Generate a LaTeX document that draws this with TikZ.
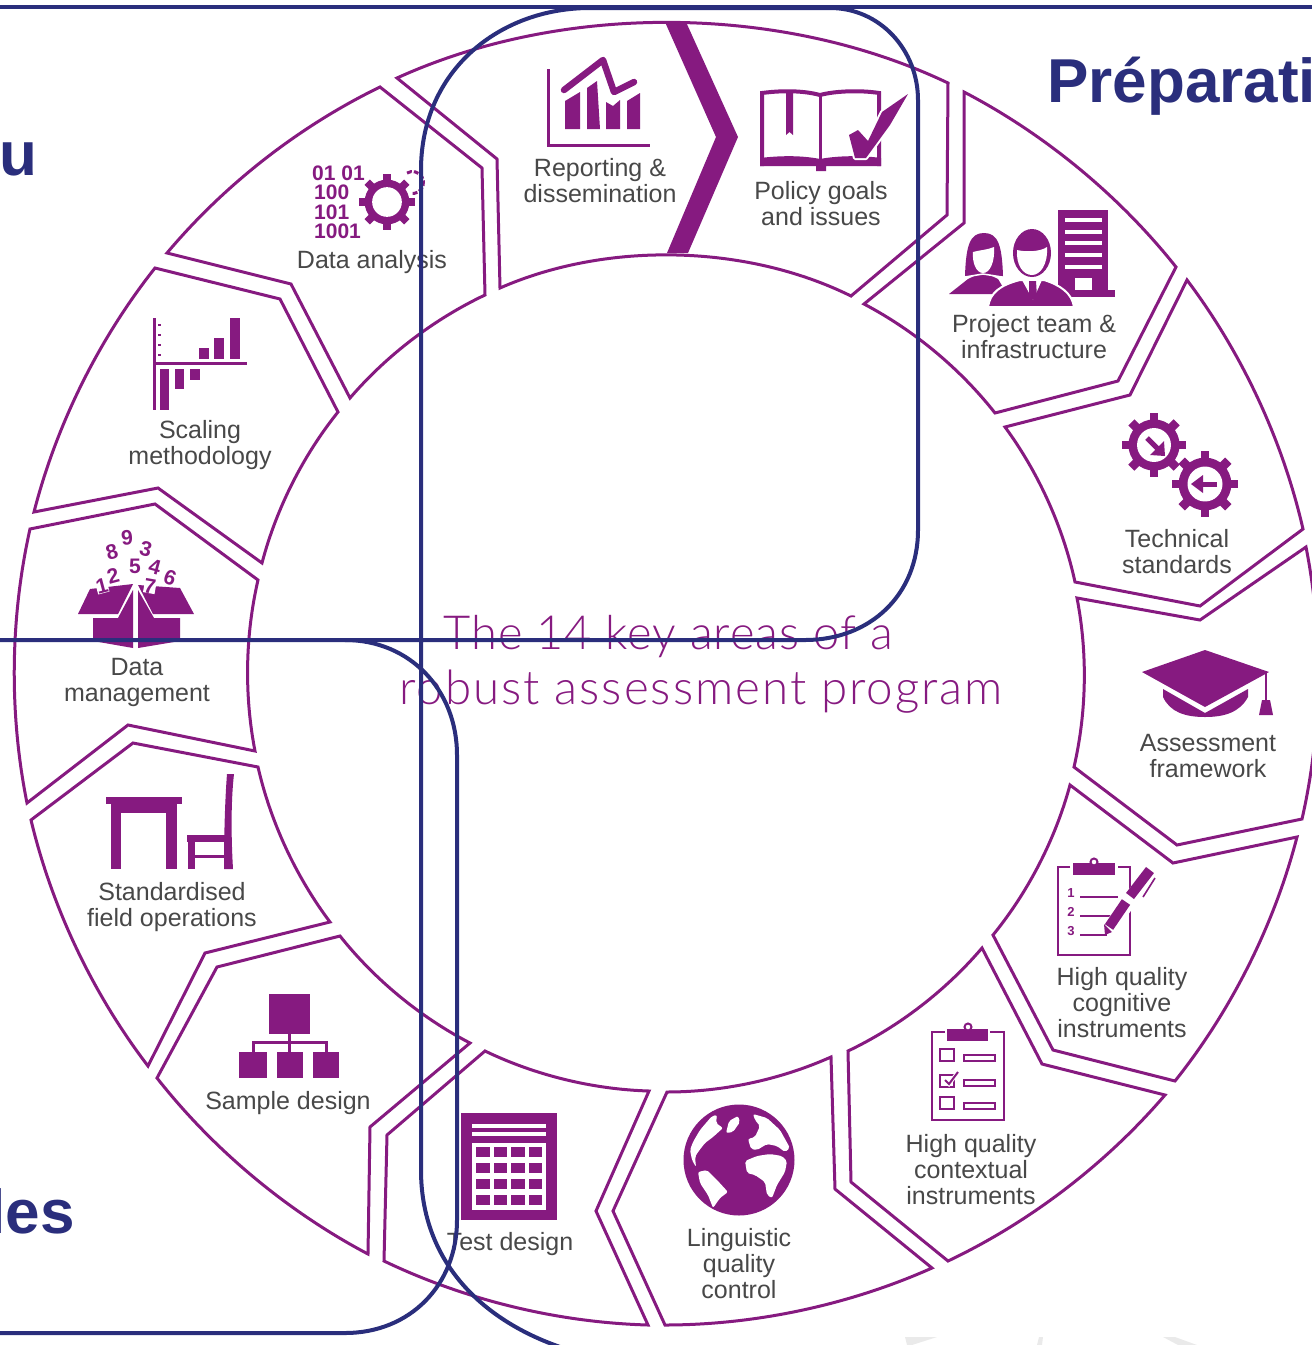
\documentclass[tikz,border=0pt]{standalone}
\usepackage{fontspec}
\setmainfont{Liberation Sans}
\newfontfamily\thinfont{Lato Light}
\newfontfamily\thinwide{Lato Light}[LetterSpace=2.2]
\newfontfamily\thinwider{Lato Light}[LetterSpace=4.2]
\definecolor{purp}{HTML}{861A80}
\definecolor{navy}{HTML}{2A2E7C}
\definecolor{labelgray}{HTML}{484848}
\definecolor{faint}{HTML}{EAEAEA}
\tikzset{
	ring/.style={draw=purp,line width=3pt,line join=miter,fill=white},
	rim/.style={bend left=12,looseness=.85},
	rimwide/.style={bend left=25,looseness=.85},
	hub/.style={bend right=12,looseness=.85},
	hubwide/.style={bend right=25,looseness=.85},
	label/.style={text=labelgray,align=center,inner sep=0pt,font=\fontsize{25}{26}\selectfont},
	centre/.style={text=purp,inner sep=0pt},
	heading/.style={text=navy,inner sep=0pt,font=\bfseries\fontsize{62}{66}\selectfont},
	digit/.style={text=purp,inner sep=0pt,font=\bfseries\fontsize{21}{21}\selectfont},
	smalldigit/.style={text=purp,inner sep=0pt,font=\bfseries\fontsize{13}{13}\selectfont},
	bits/.style={text=purp,inner sep=0pt,anchor=west,font=\bfseries\fontsize{21}{21}\selectfont},
	land/.style={fill=white,rounded corners=2pt},
	overlay/.style={draw=navy,line width=4pt}
}
\newcommand{\gearicon}[3]{
	\foreach \a in {0,45,...,315}
		\draw[purp,line width=#3*.27pt] (#1,#2) ++(\a:.7*#3) -- ++(\a:.3*#3);
	\fill[purp] (#1,#2) circle[radius=.8*#3];
	\fill[white] (#1,#2) circle[radius=.53*#3];
}
\begin{document}
\begin{tikzpicture}[x=1pt,y=-1pt]
	\useasboundingbox (0,0) rectangle (1312,1345);
	\clip (0,0) rectangle (1312,1345);

	% ring
	\draw[ring] (397,78) to[rimwide] (948,83) -- (947,215) -- (851,296) to[hubwide] (500,288) -- (497,159) -- cycle;
	\fill[purp] (665,22) -- (686,22) -- (738,137) -- (688,253) -- (667,253) -- (716,137) -- cycle;
	\draw[ring] (964,92) to[rim] (1176,267) -- (1118,381) -- (995,413) to[hub] (864,304) -- (964,223) -- cycle;
	\draw[ring] (1187,280) to[rim] (1303,529) -- (1200,606) -- (1075,582) to[hub] (1005,427) -- (1130,395) -- cycle;
	\draw[ring] (1306,547) to[rim] (1302,819) -- (1177,845) -- (1074,767) to[hub] (1077,598) -- (1200,620) -- cycle;
	\draw[ring] (1297,837) to[rim] (1175,1081) -- (1053,1050) -- (993,935) to[hub] (1070,785) -- (1173,863) -- cycle;
	\draw[ring] (1165,1095) to[rim] (948,1261) -- (851,1182) -- (848,1051) to[hub] (982,948) -- (1042,1064) -- cycle;
	\draw[ring] (932,1268) to[rim] (665,1325) -- (613,1211) -- (667,1092) to[hub] (831,1057) -- (835,1189) -- cycle;
	\draw[ring] (648,1325) to[rim] (384,1261) -- (387,1135) -- (485,1051) to[hub] (649,1091) -- (596,1211) -- cycle;
	\draw[ring] (368,1254) to[rim] (157,1078) -- (217,967) -- (340,936) to[hub] (470,1043) -- (370,1127) -- cycle;
	\draw[ring] (148,1066) to[rim] (31,820) -- (133,743) -- (258,767) to[hub] (330,922) -- (205,953) -- cycle;
	\draw[ring] (27,803) to[rim] (30,529) -- (155,504) -- (258,580) to[hub] (255,751) -- (128,725) -- cycle;
	\draw[ring] (34,512) to[rim] (155,268) -- (280,299) -- (338,412) to[hub] (262,563) -- (158,488) -- cycle;
	\draw[ring] (167,253) to[rim] (380,87) -- (482,168) -- (485,295) to[hub] (350,398) -- (291,284) -- cycle;

	% faint marks along the lower edge
	\fill[faint] (905,1337) -- (937,1337) -- (912,1345) -- (907,1345) -- cycle;
	\fill[faint] (1039,1337) -- (1043,1337) -- (1042,1345) -- (1037,1345) -- cycle;
	\fill[faint] (1163,1337) -- (1175,1337) -- (1197,1345) -- (1178,1345) -- cycle;

	% reporting
	\draw[purp,line width=3pt] (548,69) -- (548,145) -- (650,145);
	\fill[purp] (565,129) -- (565,101) -- (580,92) -- (580,129) -- cycle;
	\fill[purp] (587,129) -- (587,88) -- (597,81) -- (600,129) -- cycle;
	\fill[purp] (606,129) -- (606,102) -- (613,106) -- (620,100) -- (620,129) -- cycle;
	\fill[purp] (627,129) -- (627,101) -- (640,93) -- (640,129) -- cycle;
	\draw[white,line width=10pt,line join=round] (564,90) -- (603,60) -- (614,92) -- (634,82);
	\draw[purp,line width=6.5pt,line cap=round,line join=round] (564,90) -- (603,60) -- (614,92) -- (634,82);

	% policy book
	\draw[purp,line width=4pt] (762,166) -- (762,93) .. controls (785,90) and (805,91) .. (820,95) .. controls (835,91) and (860,90) .. (879,93) -- (879,166);
	\draw[purp,line width=3pt] (820,95) -- (820,160);
	\fill[purp] (760,158) .. controls (785,155) and (805,156) .. (820,159) .. controls (835,156) and (860,155) .. (881,158) -- (881,166) -- (826,166) -- (826,171) -- (816,171) -- (816,166) -- (760,166) -- cycle;
	\fill[purp] (786,93) -- (793,93) -- (793,135) -- (789.5,132) -- (786,135) -- cycle;
	\draw[white,line width=4pt,line join=round] (849,135) -- (858,130) -- (868,141) -- (882,112) -- (908,94) -- (890,125) -- (866,158) -- (855,158) -- cycle;
	\fill[purp] (849,135) -- (858,130) -- (868,141) -- (882,112) -- (908,94) -- (890,125) -- (866,158) -- (855,158) -- cycle;

	% project team
	\fill[purp] (1058,210) rectangle (1108,292);
	\fill[purp] (1058,290) rectangle (1115,297);
	\foreach \y in {220,232,243,255,267}
		\fill[white] (1065,\y-2) rectangle (1102,\y+2);
	\fill[white] (1075,278) rectangle (1092,290);
	\fill[purp] (949,294) -- (968,279) -- (983,272) -- (998,279) -- (1007,294) -- cycle;
	\fill[purp] (965,276) .. controls (966,245) and (970,233) .. (984,233) .. controls (998,233) and (1002,245) .. (1003,276) -- cycle;
	\fill[white] (973,252) .. controls (980,250) and (987,250) .. (994,247) .. controls (995,262) and (990,273) .. (983,273) .. controls (976,273) and (972,262) .. (973,252) -- cycle;
	\draw[white,line width=1.5pt] (965,277) -- (983,274) -- (1002,277);
	\filldraw[draw=white,line width=2pt,fill=purp] (988,307) .. controls (990,293) and (1000,285) .. (1020,280) -- (1044,280) .. controls (1060,285) and (1072,293) .. (1074,307) -- cycle;
	\fill[purp] (1032,253) ellipse[x radius=19,y radius=24];
	\fill[white] (1017,250) .. controls (1025,252) and (1040,252) .. (1047,247) .. controls (1048,265) and (1040,275) .. (1032,275) .. controls (1023,275) and (1016,265) .. (1017,250) -- cycle;
	\fill[white] (1022,280) -- (1042,280) -- (1033,300) -- cycle;
	\fill[purp] (1029,281) -- (1036,281) -- (1037,297) -- (1033,300) -- (1029,297) -- cycle;

	% technical standards
	\gearicon{1154}{445}{32}
	\gearicon{1205}{484}{33}
	\draw[purp,line width=5pt] (1147,438) -- (1158,449);
	\fill[purp] (1165,456) -- (1164,441) -- (1150,455) -- cycle;
	\draw[purp,line width=5pt] (1217,484) -- (1200,484);
	\fill[purp] (1191,484) -- (1203,475) -- (1203,493) -- cycle;

	% assessment framework
	\fill[purp] (1163,689) -- (1205,713) -- (1248,689) -- (1248,697) .. controls (1240,712) and (1225,717) .. (1205,717) .. controls (1185,717) and (1170,712) .. (1163,697) -- cycle;
	\fill[purp] (1142,672) -- (1205,650) -- (1269,672) -- (1205,707) -- cycle;
	\draw[purp,line width=1.6pt] (1266,672) -- (1266,700);
	\fill[purp] (1262,700) -- (1270,700) -- (1273,715) -- (1259,715) -- cycle;

	% cognitive clipboard
	\draw[purp,line width=2.4pt] (1070,867) -- (1058,867) -- (1058,955) -- (1130,955) -- (1130,867) -- (1118,867);
	\fill[purp] (1073,863) rectangle (1115,875);
	\draw[purp,line width=2pt,fill=white] (1094,862) circle[radius=3.5];
	\node[smalldigit] (one) at (1071,893) {1};
	\node[smalldigit] (two) at (1071,912) {2};
	\node[smalldigit] (three) at (1071,931) {3};
	\draw[purp,line width=1.6pt] (1080,897) -- (1118,897) (1080,916) -- (1113,916) (1080,935) -- (1107,935);
	\draw[white,line width=14pt] (1110,928) -- (1150,872);
	\draw[purp,line width=10pt] (1109,927) -- (1126,902);
	\draw[purp,line width=10pt] (1130,896) -- (1150,870);
	\fill[purp] (1104,924) -- (1112,932) -- (1105,935) -- cycle;
	\draw[purp,line width=1.6pt] (1143,897) -- (1155,878);

	% contextual clipboard
	\draw[purp,line width=2.2pt] (945,1032) -- (932,1032) -- (932,1120) -- (1004,1120) -- (1004,1032) -- (990,1032);
	\fill[purp] (947,1029) rectangle (988,1041);
	\draw[purp,line width=2pt,fill=white] (968,1027) circle[radius=3.5];
	\foreach \y in {1049,1075,1097}
		\draw[purp,line width=1.6pt] (940,\y) rectangle (954,\y+12);
	\foreach \y in {1055,1080,1103}
		\draw[purp,line width=1.6pt] (964,\y) rectangle (995,\y+6);
	\draw[white,line width=4pt] (945,1080) -- (949,1084) -- (958,1072);
	\draw[purp,line width=2pt] (945,1080) -- (949,1084) -- (958,1072);

	% globe
	\fill[purp] (739,1160) circle[radius=55.5];
	\fill[land] (712,1116) -- (717,1115) -- (716,1123) -- (723,1128) -- (713,1137) -- (705,1143) -- (698,1152) -- (695,1157) -- (696,1167) -- (692,1160) -- (690,1150) -- (693,1142) -- (700,1130) -- cycle;
	\fill[land] (729,1121) -- (738,1116) -- (740,1122) -- (733,1132) -- (726,1133) -- cycle;
	\fill[land] (753,1114) -- (767,1118) -- (780,1130) -- (790,1148) -- (785,1152) -- (777,1146) -- (767,1144) -- (757,1150) -- (751,1149) -- (748,1139) -- (755,1137) -- (760,1126) -- (755,1120) -- cycle;
	\fill[land] (745,1161) -- (757,1156) -- (770,1154) -- (782,1156) -- (787,1161) -- (785,1172) -- (777,1185) -- (772,1198) -- (767,1195) -- (765,1182) -- (755,1175) -- (747,1173) -- cycle;
	\fill[land] (698,1172) -- (707,1170) -- (717,1180) -- (728,1192) -- (720,1198) -- (713,1208) -- (708,1195) -- (700,1183) -- cycle;

	% test design
	\fill[purp] (461,1113) rectangle (557,1220);
	\fill[white] (472,1124) rectangle (546,1128);
	\fill[white] (472,1132) rectangle (546,1136);
	\fill[white] (472,1143) rectangle (546,1210);
	\foreach \x in {476,493.5,511,528.5}
		\foreach \y in {1147,1163,1179,1195}
			\fill[purp] (\x,\y) rectangle (\x+13.5,\y+10);

	% sample design
	\fill[purp] (269,994) rectangle (310,1034);
	\draw[purp,line width=3pt] (289,1034) -- (289,1052) (253,1052) -- (253,1042) -- (326,1042) -- (326,1052);
	\fill[purp] (239,1052) rectangle (267,1078);
	\fill[purp] (277,1052) rectangle (303,1078);
	\fill[purp] (313,1052) rectangle (339,1078);

	% field operations
	\fill[purp] (106,797) rectangle (182,804);
	\fill[purp] (111,804) rectangle (177,813);
	\fill[purp] (111,813) rectangle (121,869);
	\fill[purp] (166,813) rectangle (177,869);
	\fill[purp] (227,774) -- (234,774) .. controls (231,800) and (231,835) .. (233,869) -- (224,869) .. controls (224,835) and (225,800) .. (227,774) -- cycle;
	\fill[purp] (187,835) rectangle (228,842);
	\fill[purp] (188,842) rectangle (195,869);
	\fill[purp] (195,855) rectangle (226,858);

	% data management
	\fill[purp] (78,614) -- (90,589) -- (133,584) -- (118,614) -- cycle;
	\fill[purp] (138,585) -- (180,588) -- (194,614) -- (153,614) -- cycle;
	\fill[purp] (93,618) -- (118,618) -- (133,590) -- (133,648) -- (93,641) -- cycle;
	\fill[purp] (138,590) -- (154,618) -- (180,618) -- (180,641) -- (138,648) -- cycle;
	\node[digit,rotate=15] (eight) at (112,552) {8};
	\node[digit,rotate=5] (nine) at (127,538) {9};
	\node[digit,rotate=-15] (thr) at (146,549) {3};
	\node[digit] (five) at (135,566) {5};
	\node[digit,rotate=-15] (four) at (155,567) {4};
	\node[digit,rotate=-20] (six) at (170,578) {6};
	\node[digit,rotate=15] (twoo) at (113,576) {2};
	\node[digit,rotate=15,fill=white] (onee) at (102,586) {1};
	\node[digit,rotate=-10,fill=white] (seven) at (150,586) {7};

	% scaling
	\draw[purp,line width=3pt] (154,318) -- (154,410) (154,363) -- (247,363);
	\fill[purp] (199,348) rectangle (209,359);
	\fill[purp] (214,338) rectangle (224,359);
	\fill[purp] (230,318) rectangle (240,359);
	\fill[purp] (160,369) rectangle (169,410);
	\fill[purp] (175,369) rectangle (184,389);
	\fill[purp] (190,369) rectangle (200,380);
	\foreach \y in {324,334,344,354}
		\fill[purp] (158,\y) rectangle (161,\y+1.6);

	% data analysis
	\node[bits] (bita) at (312,173) {01 01};
	\node[bits] (bitb) at (314,192) {100};
	\node[bits] (bitc) at (314,212) {101};
	\node[bits] (bitd) at (314,231) {1001};
	\gearicon{387}{202}{28}
	\draw[purp,line width=3pt,dash pattern=on 5pt off 2pt] (407,173) arc[start angle=-120,end angle=100,radius=11];

	% labels
	\node[label] (reporting) at (600,181) {Reporting \&\\dissemination};
	\node[label] (policy) at (821,204) {Policy goals\\and issues};
	\node[label] (project) at (1034,337) {Project team \&\\infrastructure};
	\node[label] (technical) at (1177,552) {Technical\\standards};
	\node[label] (assessment) at (1208,756) {Assessment\\framework};
	\node[label] (cognitive) at (1122,1003) {High quality\\cognitive\\instruments};
	\node[label] (contextual) at (971,1170) {High quality\\contextual\\instruments};
	\node[label] (linguistic) at (739,1264) {Linguistic\\quality\\control};
	\node[label] (test) at (510,1244) {Test design};
	\node[label] (sample) at (288,1103) {Sample design};
	\node[label] (field) at (172,907) {Standardised\\field operations};
	\node[label] (datam) at (137,682) {Data\\management};
	\node[label] (scaling) at (200,445) {Scaling\\methodology};
	\node[label] (analysis) at (372,262) {Data analysis};
	\node[centre,font=\thinwide\fontsize{47}{50}\selectfont] (centrea) at (668,637) {The 14 key areas of a};
	\node[centre,font=\thinwider\fontsize{47.5}{50}\selectfont] (centreb) at (701,692) {robust assessment program};

	% headings and frames
	\node[heading,anchor=west] (prep) at (1047,86) {Préparati};
	\node[heading,anchor=east] (headu) at (38,159) {u};
	\node[heading,anchor=east] (headles) at (75,1211) {les};
	\draw[overlay] (0,7) -- (1312,7);
	\draw[overlay] (0,640) -- (805,640) .. controls (870,640) and (918,595) .. (918,530) -- (918,100) .. controls (918,50) and (880,8) .. (830,8) -- (590,8) .. controls (500,8) and (421,70) .. (421,170) -- (421,1170) .. controls (421,1260) and (480,1320) .. (563,1348);
	\draw[overlay] (345,640) .. controls (410,640) and (457,690) .. (457,755) -- (457,1220) .. controls (457,1285) and (410,1333) .. (345,1333) -- (0,1333);
\end{tikzpicture}
\end{document}
